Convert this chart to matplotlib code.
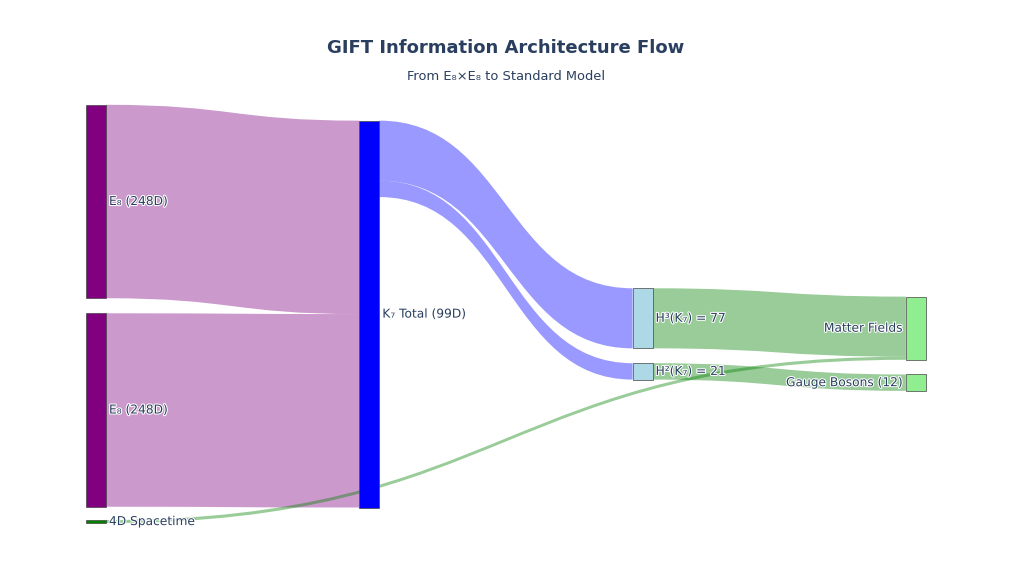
import matplotlib.pyplot as plt
import matplotlib.patheffects as pe
from matplotlib.path import Path
from matplotlib.patches import PathPatch, Rectangle

# nodes
node_labels = ["E₈ (248D)", "E₈ (248D)", "K₇ Total (99D)", "H³(K₇) = 77",
               "H²(K₇) = 21", "Matter Fields", "Gauge Bosons (12)", "4D Spacetime"]
node_colors = ["purple", "purple", "blue", "lightblue",
               "lightblue", "lightgreen", "lightgreen", "green"]

# links
link_source = [0, 1, 2, 2, 3, 4, 7]
link_target = [2, 2, 3, 4, 5, 6, 5]
link_value = [248, 248, 77, 21, 77, 21, 4]
link_colors = ["rgba(128,0,128,0.4)", "rgba(128,0,128,0.4)",
               "rgba(0,0,255,0.4)", "rgba(0,0,255,0.4)",
               "rgba(0,128,0,0.4)", "rgba(0,128,0,0.4)",
               "rgba(0,128,0,0.4)"]

# layout (like plotly node.x / node.y): column and vertical centre as fraction of height
node_col = [0, 0, 1, 2, 2, 3, 3, 0]
node_yfrac = [0.3523, 0.7168, 0.5491, 0.5565, 0.6493, 0.5738, 0.6690, 0.9118]

W, H = 1024, 572
COL_X0, COL_DX = 86, 273.3
NODE_W = 20
SCALE = 0.78  # px per unit
TXT = "#2a3f5f"


def rgba(s):
    parts = s[s.index("(") + 1:s.index(")")].split(",")
    r, g, b = [int(p) / 255 for p in parts[:3]]
    return (r, g, b, float(parts[3]))


def main():
    fig = plt.figure(figsize=(W / 100, H / 100), dpi=100)
    ax = fig.add_axes([0, 0, 1, 1])
    ax.set_xlim(0, W)
    ax.set_ylim(H, 0)
    ax.axis("off")

    n = len(node_labels)
    inflow = [0] * n
    outflow = [0] * n
    for s, t, v in zip(link_source, link_target, link_value):
        outflow[s] += v
        inflow[t] += v
    node_h = [max(i, o) * SCALE for i, o in zip(inflow, outflow)]
    node_x = [COL_X0 + c * COL_DX for c in node_col]
    node_top = [f * H - h / 2 for f, h in zip(node_yfrac, node_h)]
    centre = [f * H for f in node_yfrac]

    # stack links on each node, ordered by the other end's position
    out_off = list(node_top)
    in_off = list(node_top)
    order_out = sorted(range(len(link_value)), key=lambda k: centre[link_target[k]])
    src_y = {}
    for k in order_out:
        s = link_source[k]
        src_y[k] = out_off[s]
        out_off[s] += link_value[k] * SCALE
    order_in = sorted(range(len(link_value)), key=lambda k: centre[link_source[k]])
    tgt_y = {}
    for k in order_in:
        t = link_target[k]
        tgt_y[k] = in_off[t]
        in_off[t] += link_value[k] * SCALE

    for k in range(len(link_value)):
        s, t = link_source[k], link_target[k]
        w = link_value[k] * SCALE
        x0 = node_x[s] + NODE_W
        x1 = node_x[t]
        xm = x0 + (x1 - x0) * 0.5
        y0, y1 = src_y[k], tgt_y[k]
        verts = [(x0, y0), (xm, y0), (xm, y1), (x1, y1),
                 (x1, y1 + w), (xm, y1 + w), (xm, y0 + w), (x0, y0 + w),
                 (x0, y0)]
        codes = [Path.MOVETO, Path.CURVE4, Path.CURVE4, Path.CURVE4,
                 Path.LINETO, Path.CURVE4, Path.CURVE4, Path.CURVE4,
                 Path.CLOSEPOLY]
        ax.add_patch(PathPatch(Path(verts, codes), facecolor=rgba(link_colors[k]),
                               edgecolor="none", zorder=1))

    halo = [pe.withStroke(linewidth=1.5, foreground="white")]
    last_col = max(node_col)
    for i in range(n):
        ax.add_patch(Rectangle((node_x[i], node_top[i]), NODE_W, node_h[i],
                               facecolor=node_colors[i], edgecolor="#444444",
                               linewidth=0.5, zorder=2))
        if node_col[i] == last_col:
            tx, ha = node_x[i] - 3, "right"
        else:
            tx, ha = node_x[i] + NODE_W + 3, "left"
        ax.text(tx, centre[i], node_labels[i], ha=ha, va="center",
                fontsize=8.8, color=TXT, path_effects=halo, zorder=3)

    ax.text(506, 48, "GIFT Information Architecture Flow", ha="center",
            va="center", fontsize=12.96, fontweight="bold", color=TXT)
    ax.text(506, 77, "From E₈×E₈ to Standard Model", ha="center",
            va="center", fontsize=9.36, color=TXT)

    fig.savefig("out.png", dpi=100, facecolor="white")


if __name__ == "__main__":
    main()
